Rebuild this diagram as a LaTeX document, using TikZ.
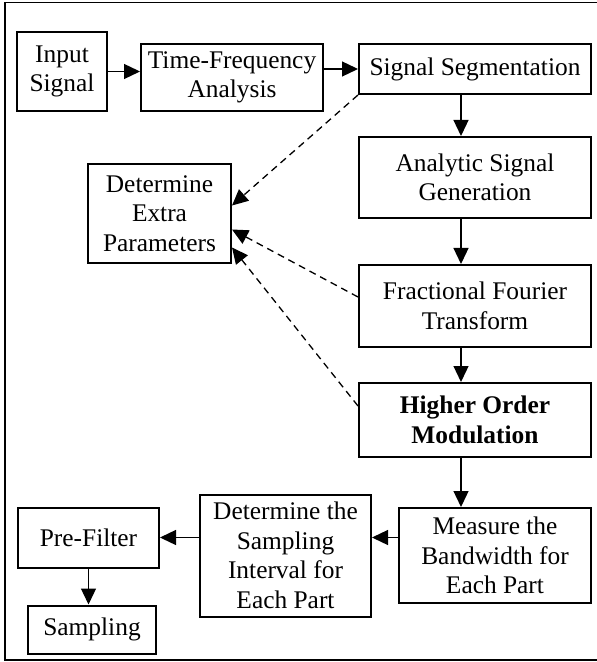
\documentclass[tikz,border=0pt]{standalone}
\usepackage{fontspec}
\setmainfont{Liberation Serif}
\usepackage{tikz}
\usetikzlibrary{arrows.meta,positioning}

\begin{document}
\begin{tikzpicture}[
  font=\fontsize{12.7}{14.8}\selectfont,
  box/.style={draw, line width=1pt, align=center, inner sep=1pt},
  ar/.style={-{Triangle[length=8pt,width=7.5pt]}, line width=0.65pt},
  dar/.style={ar, dash pattern=on 3.5pt off 2.5pt}
]
\useasboundingbox (0,0) rectangle (298.5pt,-331pt);
\draw[line width=0.8pt] (2.5pt,-1.25pt) rectangle (305pt,-330pt);
% top row
\node[box, minimum width=45pt, minimum height=39.5pt] (in) at (31pt,-35.75pt) {Input\\Signal};
\node[box, minimum width=91pt, minimum height=33.5pt, right=16pt of in, yshift=-3pt] (tf) {Time-Frequency\\Analysis};
\node[box, minimum width=116pt, minimum height=25pt, right=17pt of tf.north east, anchor=north west] (ss) {Signal Segmentation};
% right column
\node[box, minimum width=116pt, minimum height=40.5pt, below=20.5pt of ss] (asg) {Analytic Signal\\Generation};
\node[box, minimum width=116pt, minimum height=41pt, below=22.5pt of asg] (fft) {Fractional Fourier\\Transform};
\node[box, minimum width=116pt, minimum height=37pt, below=17pt of fft, font=\fontsize{12.7}{14.8}\selectfont\bfseries] (hom) {Higher Order\\Modulation};
\node[box, minimum width=96pt, minimum height=47.5pt, below=24.5pt of hom.south east, anchor=north east] (meas) {Measure the\\Bandwidth for\\Each Part};
% bottom row
\node[box, minimum width=85.5pt, minimum height=61pt, left=13pt of meas] (dsi) {Determine the\\Sampling\\Interval for\\Each Part};
\node[box, minimum width=70.5pt, minimum height=30pt, left=19.5pt of dsi, yshift=9pt] (pf) {Pre-Filter};
\node[box, minimum width=64pt, minimum height=24pt, below=18pt of pf, xshift=1.75pt] (samp) {Sampling};
\node[box, minimum width=71.5pt, minimum height=49.5pt] (dep) at (79.75pt,-106.75pt) {Determine\\Extra\\Parameters};
\coordinate (col) at ([xshift=-7pt]ss.south);
% solid flow
\draw[ar] (in.east) -- (in.east -| tf.west);
\draw[ar] (tf.east |- ss.west) -- (ss.west);
\draw[ar] (ss.south -| col) -- (asg.north -| col);
\draw[ar] (asg.south -| col) -- (fft.north -| col);
\draw[ar] (fft.south -| col) -- (hom.north -| col);
\draw[ar] (hom.south -| col) -- (meas.north -| col);
\draw[ar] (meas.west |- pf) -- (dsi.east |- pf);
\draw[ar] (dsi.west |- pf) -- (pf.east);
\draw[ar] (pf.south) -- (pf.south |- samp.north);
% dashed to extra parameters
\draw[dar] (ss.south west) -- ([yshift=4pt]dep.east);
\draw[dar] ([yshift=4.5pt]fft.west) -- ([yshift=-8pt]dep.east);
\draw[dar] ([yshift=7pt]hom.west) -- ([yshift=-17pt]dep.east);
\end{tikzpicture}
\end{document}
